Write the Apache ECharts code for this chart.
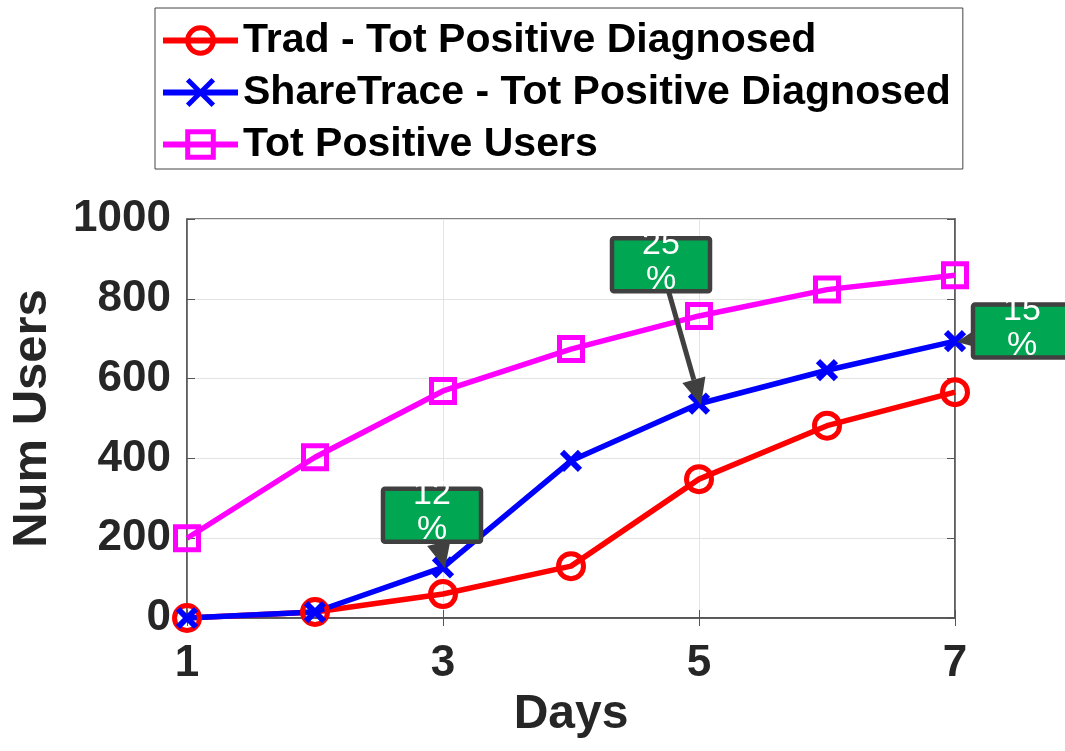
<!DOCTYPE html>
<html>
<head>
<meta charset="utf-8">
<script src="https://cdn.jsdelivr.net/npm/echarts@6/dist/echarts.min.js"></script>
<style>
html,body{margin:0;padding:0;background:#fff;}
#chart{width:1065px;height:751px;}
</style>
</head>
<body>
<div id="chart"></div>
<script>
const days = [1, 2, 3, 4, 5, 6, 7];
const tradDiagnosed = [0, 15, 60, 130, 348, 482, 566];
const shareTraceDiagnosed = [0, 15, 127, 394, 537, 621, 694];
const totPositiveUsers = [200, 403, 569, 674, 757, 823, 859];
const seriesNames = ['Trad - Tot Positive Diagnosed', 'ShareTrace - Tot Positive Diagnosed', 'Tot Positive Users'];
const yTicks = [0, 200, 400, 600, 800, 1000];
const xTicks = [1, 3, 5, 7];
// annotations: target point and label
const annotations = [
  { day: 3, value: 127, text: '12\n%', dx: -11, dy: -52 },
  { day: 5, value: 537, text: '25\n%', dx: -38, dy: -139 },
  { day: 7, value: 694, text: '15\n%', dx: 67, dy: -10 }
];

const FONT = '"Liberation Sans", Arial, Helvetica, sans-serif';
const chart = echarts.init(document.getElementById('chart'), null, { renderer: 'canvas' });

function pairs(vals) { return days.map((d, i) => [d, vals[i]]); }

const xPath = 'path://M0,0L20,20M20,0L0,20';
const axisCol = '#555555';

const mirrorAxis = {
  axisLine: { show: true, lineStyle: { color: axisCol, width: 1.5 } },
  axisTick: { show: true, inside: true, length: 8, lineStyle: { color: axisCol } },
  axisLabel: { show: false },
  splitLine: { show: false }
};

const option = {
  animation: false,
  backgroundColor: '#ffffff',
  legend: {
    orient: 'vertical',
    left: 155,
    top: 8,
    padding: [12, 12, 4, 5],
    itemGap: 11,
    itemWidth: 75,
    itemHeight: 32,
    borderColor: '#444444',
    borderWidth: 1,
    lineStyle: { width: 6 },
    itemStyle: { borderWidth: 5 },
    textStyle: { fontFamily: FONT, fontSize: 41, fontWeight: 'bold', color: '#000' },
    data: seriesNames
  },
  grid: {
    left: 187, right: 110, top: 219, bottom: 133,
    containLabel: false, outerBoundsMode: 'none',
    show: true, borderColor: axisCol, borderWidth: 1.5
  },
  xAxis: [{
    type: 'value',
    min: 1, max: 7, interval: 2,
    name: 'Days',
    nameLocation: 'middle',
    nameGap: 64,
    nameTextStyle: { fontFamily: FONT, fontSize: 48, fontWeight: 'bold', color: '#262626' },
    axisLine: { show: true, lineStyle: { color: axisCol, width: 1.5 } },
    axisTick: { show: true, inside: true, length: 8, lineStyle: { color: axisCol } },
    splitLine: { show: true, lineStyle: { color: '#e3e3e3', width: 1 } },
    axisLabel: {
      fontFamily: FONT, fontSize: 44, fontWeight: 'bold', color: '#262626', margin: 24,
      formatter: v => xTicks.includes(v) ? String(v) : ''
    }
  }, Object.assign({ type: 'value', position: 'top', min: 1, max: 7, interval: 2 }, mirrorAxis)],
  yAxis: [{
    type: 'value',
    min: 0, max: 1000, interval: 200,
    name: 'Num Users',
    nameLocation: 'middle',
    nameGap: 130,
    nameTextStyle: { fontFamily: FONT, fontSize: 49, fontWeight: 'bold', color: '#262626' },
    axisLine: { show: true, lineStyle: { color: axisCol, width: 1.5 } },
    axisTick: { show: true, inside: true, length: 8, lineStyle: { color: axisCol } },
    splitLine: { show: true, lineStyle: { color: '#e3e3e3', width: 1 } },
    axisLabel: {
      fontFamily: FONT, fontSize: 44, fontWeight: 'bold', color: '#262626', margin: 16,
      formatter: v => yTicks.includes(v) ? String(v) : ''
    }
  }, Object.assign({ type: 'value', position: 'right', min: 0, max: 1000, interval: 200 }, mirrorAxis)],
  series: [
    {
      name: seriesNames[0], type: 'line', data: pairs(tradDiagnosed),
      symbol: 'circle', symbolSize: 25, showAllSymbol: true,
      lineStyle: { color: '#ff0000', width: 5.5 },
      itemStyle: { color: 'rgba(255,0,0,0)', borderColor: '#ff0000', borderWidth: 5 }
    },
    {
      name: seriesNames[1], type: 'line', data: pairs(shareTraceDiagnosed),
      symbol: xPath, symbolSize: 18, showAllSymbol: true,
      lineStyle: { color: '#0000ff', width: 5.5 },
      itemStyle: { color: '#0000ff', borderColor: '#0000ff', borderWidth: 6 }
    },
    {
      name: seriesNames[2], type: 'line', data: pairs(totPositiveUsers),
      symbol: 'rect', symbolSize: 23, showAllSymbol: true,
      lineStyle: { color: '#ff00ff', width: 5.5 },
      itemStyle: { color: 'rgba(255,0,255,0)', borderColor: '#ff00ff', borderWidth: 5 }
    }
  ]
};
chart.setOption(option);

function buildAnnotations() {
  const g = [];
  annotations.forEach((a) => {
    const p = chart.convertToPixel({ xAxisIndex: 0, yAxisIndex: 0 }, [a.day, a.value]);
    const cx = p[0] + a.dx, cy = p[1] + a.dy;
    const w = 98, h = 53;
    const tx = p[0] + 2, ty = p[1] + 1;
    const ang = Math.atan2(ty - cy, tx - cx);
    const headLen = 26, headW = 12;
    const bx = tx - headLen * Math.cos(ang), by = ty - headLen * Math.sin(ang);
    const nx = -Math.sin(ang), ny = Math.cos(ang);
    g.push({
      type: 'line', z: 100,
      shape: { x1: cx, y1: cy, x2: bx, y2: by },
      style: { stroke: '#404040', lineWidth: 5 }
    });
    g.push({
      type: 'polygon', z: 100,
      shape: { points: [[tx, ty], [bx + nx * headW, by + ny * headW], [bx - nx * headW, by - ny * headW]] },
      style: { fill: '#404040' }
    });
    g.push({
      type: 'rect', z: 101,
      shape: { x: cx - w / 2, y: cy - h / 2, width: w, height: h, r: 2 },
      style: { fill: '#00a651', stroke: '#404040', lineWidth: 4.5 }
    });
    g.push({
      type: 'text', z: 102,
      x: cx, y: cy - 3,
      style: {
        text: a.text, fill: '#ffffff', fontFamily: FONT, fontSize: 34,
        lineHeight: 35, align: 'center', verticalAlign: 'middle'
      }
    });
  });
  chart.setOption({ graphic: g });
}
buildAnnotations();
</script>
</body>
</html>
